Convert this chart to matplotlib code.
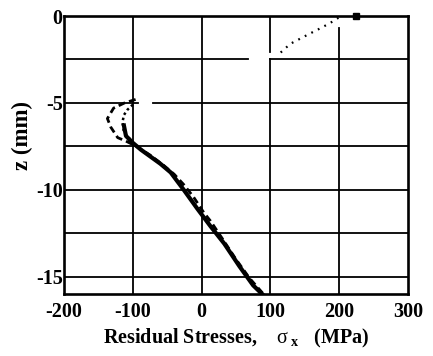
import matplotlib
matplotlib.use("Agg")
import matplotlib.pyplot as plt

plt.rcParams["font.family"] = ["Liberation Serif", "DejaVu Serif"]
plt.rcParams["mathtext.fontset"] = "custom"
plt.rcParams["mathtext.rm"] = "Liberation Serif"
plt.rcParams["mathtext.it"] = "Liberation Serif:italic"
plt.rcParams["mathtext.bf"] = "Liberation Serif:bold"

# residual stress (MPa) vs depth z (mm)
solid_s = [-113, -110, -100, -88, -74, -60, -45, -26, -6, 13, 33, 55, 75, 88]
solid_z = [-6.3, -6.9, -7.3, -7.7, -8.1, -8.5, -9.0, -10.0, -11.1, -12.1, -13.1, -14.4, -15.5, -16.0]

dash_s = [-96, -112, -128, -137, -132, -122, -110, -95, -75, -55, -40, -26, -12, 3, 13, 30, 50, 70, 90]
dash_z = [-4.8, -5.0, -5.3, -5.9, -6.4, -7.0, -7.2, -7.5, -8.0, -8.6, -9.1, -9.7, -10.4, -11.3, -11.8, -12.8, -14.0, -15.1, -16.0]

dot_s = [-100, -108, -113, -115, -113, -106, -100]
dot_z = [-5.1, -5.4, -5.7, -6.1, -6.7, -7.0, -7.3]

# faint dotted trace near the surface
top_s = [115, 129, 158, 173, 187, 199]
top_z = [-2.1, -1.6, -1.0, -0.7, -0.4, -0.1]

xticks = [-200, -100, 0, 100, 200, 300]
yticks = [0, -5, -10, -15]

fig = plt.figure(figsize=(4.33, 3.56), dpi=100, facecolor="white")
ax = fig.add_axes([0.148, 0.174, 0.794, 0.781])
ax.set_xlim(-200, 300)
ax.set_ylim(-16, 0)

# grid, with the gaps of the scanned original
gk = dict(color="black", linewidth=1.3, zorder=1)
ax.plot([-200, 67], [-2.5, -2.5], **gk)
ax.plot([100, 300], [-2.5, -2.5], **gk)
ax.plot([-200, -93], [-5, -5], **gk)
ax.plot([-71, 300], [-5, -5], **gk)
for zz in [-7.5, -10, -12.5, -15]:
    ax.axhline(zz, **gk)
ax.axvline(-100, **gk)
ax.axvline(0, **gk)
ax.plot([100, 100], [0, -2.05], **gk)
ax.plot([100, 100], [-2.5, -16], **gk)
ax.plot([200, 200], [-0.7, -16], **gk)

ax.plot(dash_s, dash_z, color="black", linewidth=2.0, linestyle=(0, (2.5, 1.5)), zorder=3)
ax.plot(dot_s, dot_z, color="black", linewidth=1.8, linestyle=(0, (1, 1.2)), zorder=3)
ax.plot(solid_s, solid_z, color="black", linewidth=3.0, zorder=4)
ax.plot(top_s, top_z, color="black", linewidth=1.6, linestyle=(0, (0.8, 2.5)), zorder=3)
ax.plot([225], [0], marker="s", markersize=5, color="black", clip_on=False, zorder=5)

for sp in ax.spines.values():
    sp.set_linewidth(1.9)

ax.set_xticks(xticks)
ax.set_yticks(yticks)
ax.set_xticklabels([str(v) for v in xticks])
ax.set_yticklabels([str(v) for v in yticks])
ax.tick_params(length=0, labelsize=14.5)
ax.tick_params(axis="x", pad=6)
ax.tick_params(axis="y", pad=1)
for lab in ax.get_xticklabels() + ax.get_yticklabels():
    lab.set_fontweight("bold")

ax.set_xlabel(r"Residual Stresses,    $\mathrm{\sigma}_{\ \mathbf{x}}$   (MPa)",
              fontsize=14.5, fontweight="bold", labelpad=3)
ax.set_ylabel("z (mm)", fontsize=16.5, fontweight="bold")
ax.yaxis.set_label_coords(-0.09, 0.57)

fig.savefig("out.png", dpi=100, facecolor="white")
